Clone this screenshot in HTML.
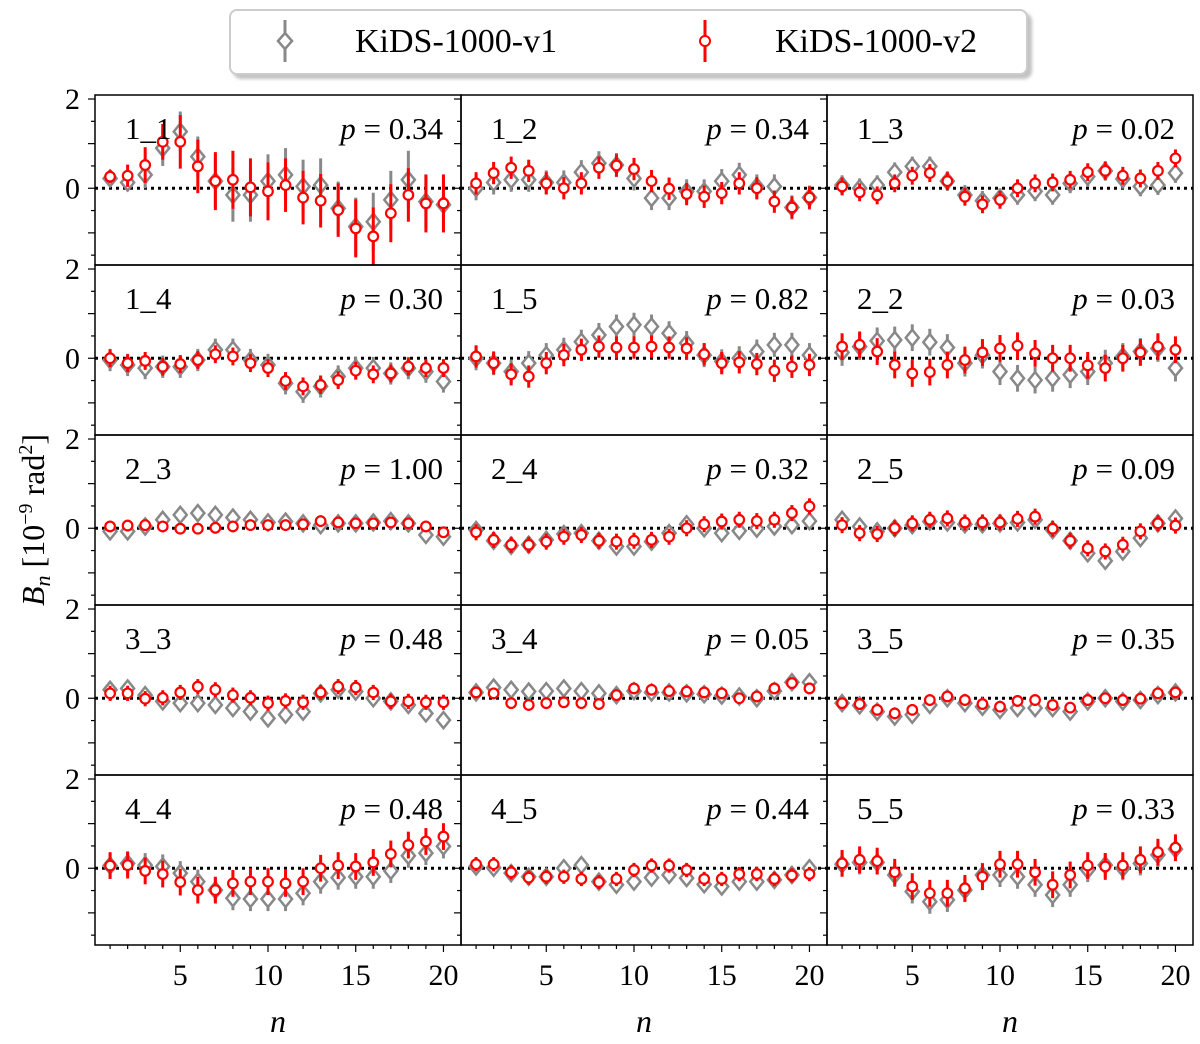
<!DOCTYPE html>
<html><head><meta charset="utf-8"><style>
body{margin:0;background:#fff;}
svg{display:block;font-family:"Liberation Serif",serif;}
</style></head><body>
<svg id="chart" width="1200" height="1044" viewBox="0 0 1200 1044" xmlns="http://www.w3.org/2000/svg">
<defs><filter id="sh" x="-5%" y="-20%" width="115%" height="160%"><feDropShadow dx="4" dy="4" stdDeviation="1.5" flood-color="#999" flood-opacity="0.6"/></filter></defs>
<g>
<rect x="230" y="10" width="797" height="64" rx="7" fill="#fff" stroke="#ccc" stroke-width="2" filter="url(#sh)"/>
<g>
<line x1="285" y1="20" x2="285" y2="62" stroke="#888" stroke-width="3"/>
<polygon points="285,33 292,41 285,49 278,41" fill="#fff" stroke="#888" stroke-width="2.5"/>
<text x="355" y="52" font-size="34">KiDS-1000-v1</text></g>
<g>
<line x1="705" y1="20" x2="705" y2="62" stroke="red" stroke-width="3"/>
<circle cx="705" cy="41" r="5" fill="#fff" stroke="red" stroke-width="2"/>
<text x="775" y="52" font-size="34">KiDS-1000-v2</text></g>
</g>
<text transform="translate(44,520) rotate(-90)" text-anchor="middle" font-size="32"><tspan font-style="italic">B</tspan><tspan font-style="italic" font-size="22" dy="6">n</tspan><tspan dy="-6"> [10</tspan><tspan font-size="20" dy="-12">−9</tspan><tspan dy="12"> rad</tspan><tspan font-size="20" dy="-12">2</tspan><tspan dy="12">]</tspan></text>
</svg>
<script>
const labels=["1_1","1_2","1_3","1_4","1_5","2_2","2_3","2_4","2_5","3_3","3_4","3_5","4_4","4_5","5_5"];
const pvals=["0.34","0.34","0.02","0.30","0.82","0.03","1.00","0.32","0.09","0.48","0.05","0.35","0.48","0.44","0.33"];
const v2=[
[.26,.28,.52,1.04,1.04,.49,.16,.19,.02,-.07,.07,-.21,-.28,-.49,-.9,-1.08,-.56,-.15,-.34,-.34],
[.11,.34,.46,.39,.11,0,.11,.46,.51,.43,.16,-.01,-.13,-.19,-.11,.11,0,-.3,-.43,-.21],
[.04,-.09,-.16,.11,.28,.34,.16,-.19,-.36,-.26,0,.11,.13,.19,.36,.39,.28,.22,.39,.67],
[0,-.11,-.06,-.19,-.13,-.04,.09,.04,-.11,-.22,-.51,-.63,-.6,-.49,-.28,-.36,-.34,-.19,-.22,-.22],
[.04,-.11,-.36,-.41,-.11,.07,.19,.26,.24,.24,.26,.24,.22,.09,-.11,-.09,-.13,-.28,-.19,-.15],
[.26,.3,.15,-.15,-.34,-.31,-.15,-.04,.13,.22,.28,.11,0,0,-.16,-.22,0,.13,.26,.19],
[.04,.06,.07,.04,-.01,-.01,.01,.04,.07,.07,.07,.09,.16,.13,.11,.11,.13,.11,.04,-.09],
[-.09,-.26,-.37,-.37,-.3,-.19,-.15,-.28,-.3,-.28,-.26,-.19,0,.09,.15,.19,.16,.19,.34,.49],
[.07,-.11,-.13,0,.11,.19,.22,.13,.13,.13,.21,.26,-.01,-.28,-.45,-.52,-.37,-.07,.11,.06],
[.11,.11,-.01,.01,.13,.26,.19,.07,.01,-.11,-.06,-.09,.13,.26,.24,.13,-.07,-.07,-.09,-.09],
[.13,.11,-.11,-.15,-.11,-.09,-.11,-.13,.07,.22,.19,.16,.15,.13,.11,0,.04,.22,.34,.22],
[-.11,-.13,-.26,-.34,-.26,-.04,.04,-.04,-.13,-.19,-.06,-.04,-.15,-.21,-.04,0,-.04,-.01,.11,.13],
[.06,.07,-.06,-.13,-.31,-.49,-.49,-.34,-.3,-.3,-.34,-.3,0,.06,.04,.13,.32,.52,.6,.71],
[.09,.09,-.09,-.21,-.19,-.19,-.24,-.31,-.24,-.04,.06,.06,-.04,-.24,-.24,-.13,-.13,-.24,-.16,-.13],
[.11,.19,.16,-.09,-.41,-.56,-.56,-.45,-.19,.09,.09,-.09,-.37,-.15,.06,.04,.06,.19,.36,.46]];
const v1=[
[.22,.13,.3,.9,1.27,.71,.16,-.15,-.15,.16,.3,.04,.07,-.45,-.86,-.75,-.26,.19,-.3,-.37],
[0,.13,.19,.19,.13,.13,.36,.56,.52,.22,-.22,-.22,-.07,-.07,.16,.3,.04,.04,-.43,-.21],
[.07,0,.07,.36,.49,.49,.16,-.15,-.28,-.22,-.15,-.07,-.15,.11,.26,.39,.21,.04,.07,.34],
[-.04,-.15,-.22,-.19,-.19,-.04,.19,.19,-.04,-.15,-.56,-.75,-.63,-.41,-.22,-.22,-.34,-.22,-.3,-.52],
[0,-.11,-.3,-.11,.07,.19,.37,.52,.71,.75,.71,.56,.34,.07,-.07,0,.15,.3,.3,.07],
[.13,.26,.39,.41,.46,.36,.24,-.11,.07,-.3,-.45,-.49,-.45,-.37,-.3,-.11,.04,.15,.22,-.22],
[-.07,-.07,.04,.19,.3,.34,.3,.24,.19,.13,.15,.11,.07,.11,.11,.13,.16,.11,-.15,-.19],
[-.04,-.28,-.39,-.37,-.26,-.13,-.11,-.28,-.41,-.41,-.3,-.11,.09,0,-.11,-.06,-.01,.04,.07,.16],
[.19,.04,-.07,0,.07,.15,.13,.09,.09,.11,.13,.19,-.04,-.28,-.56,-.73,-.52,-.22,.11,.22],
[.19,.22,.07,-.07,-.11,-.11,-.15,-.22,-.3,-.45,-.37,-.3,.11,.19,.15,0,-.07,-.15,-.34,-.49],
[.13,.24,.19,.15,.16,.22,.16,.11,.07,.16,.13,.13,.11,.09,.06,.04,0,.16,.36,.36],
[-.11,-.16,-.3,-.41,-.37,-.15,0,-.11,-.19,-.26,-.22,-.22,-.22,-.3,-.07,0,-.07,-.04,.07,.13],
[.06,.11,.07,.04,-.11,-.3,-.49,-.67,-.69,-.69,-.69,-.56,-.3,-.21,-.19,-.19,-.06,.28,.34,.49],
[.04,.01,-.11,-.19,-.19,0,.07,-.3,-.37,-.3,-.21,-.15,-.22,-.36,-.41,-.3,-.3,-.26,-.15,0],
[.09,.13,.13,-.15,-.52,-.75,-.71,-.49,-.15,-.15,-.19,-.37,-.6,-.37,-.04,.07,0,.11,.3,.43]];
const err11R=[.15,.25,.4,.4,.6,.6,.65,.65,.65,.65,.6,.6,.6,.6,.65,.65,.65,.6,.65,.65];
const err11G=[.15,.2,.3,.4,.45,.45,.6,.6,.6,.6,.6,.6,.6,.6,.65,.65,.65,.65,.6,.6];
const errR=[0,.25,.2,.2,.25,.3,.13,.18,.18,.17,.13,.13,.3,.16,.3];
const errG=[0,.27,.22,.25,.27,.3,.14,.18,.18,.17,.14,.14,.27,.16,.27];
const xTicks=[5,10,15,20];
const yLabels=[0,2];

const NS="http://www.w3.org/2000/svg";
const svg=document.getElementById('chart');
function mk(tag,at,parent){const e=document.createElementNS(NS,tag);for(const k in at)e.setAttribute(k,at[k]);(parent||svg).appendChild(e);return e;}
const colL=[95,461,827],rowT=[95,265,435,605,775],W=366,H=170;
const XMIN=0.14,XMAX=21,YMIN=-1.72,YMAX=2.09;
function xs(c,n){return colL[c]+(n-XMIN)/(XMAX-XMIN)*W;}
function ys(r,v){return rowT[r]+(YMAX-v)/(YMAX-YMIN)*H;}
for(let i=0;i<15;i++){
  const r=Math.floor(i/3),c=i%3;
  const g=mk('g',{});
  
  
  mk('line',{x1:colL[c],x2:colL[c]+W,y1:ys(r,0),y2:ys(r,0),stroke:'#000','stroke-width':3,'stroke-dasharray':'3 4'},g);
  const n=v1[i].length;
  for(let k=0;k<n;k++){
    const eg=i===0?err11G[k]:errG[i];
    const x=xs(c,k+1),y=ys(r,v1[i][k]);
    const gb=mk('line',{x1:x,x2:x,y1:ys(r,v1[i][k]+eg),y2:ys(r,v1[i][k]-eg),stroke:'#888','stroke-width':3},g);
    
    
    const d=mk('polygon',{points:`${x},${y-8} ${x+6.5},${y} ${x},${y+8} ${x-6.5},${y}`,fill:'#fff',stroke:'#888','stroke-width':2.5},g);
    
    
  }
  for(let k=0;k<n;k++){
    const er=i===0?err11R[k]:errR[i];
    const x=xs(c,k+1),y=ys(r,v2[i][k]);
    const rb=mk('line',{x1:x,x2:x,y1:ys(r,v2[i][k]+er),y2:ys(r,v2[i][k]-er),stroke:'red','stroke-width':3},g);
    
    
    const ci=mk('circle',{cx:x,cy:y,r:4.8,fill:'#fff',stroke:'red','stroke-width':2.2},g);
    
    
  }
  const lt=mk('text',{x:colL[c]+30,y:rowT[r]+44,'font-size':31},g);lt.textContent=labels[i];
  
  
  const pt=mk('text',{x:colL[c]+348,y:rowT[r]+44,'font-size':31,'text-anchor':'end'},g);
  pt.innerHTML='<tspan font-style="italic">p</tspan> = '+pvals[i];
  
  
  mk('rect',{x:colL[c],y:rowT[r],width:W,height:H,fill:'none',stroke:'#000','stroke-width':1.5},g);
  for(let t=-1.5;t<=2.0001;t+=0.5){
    const yy=ys(r,t),big=Math.abs(t%1)<1e-6;
    mk('line',{x1:colL[c]-(big?7:4),x2:colL[c],y1:yy,y2:yy,stroke:'#000','stroke-width':1.2},g);
  }
}
for(let r=0;r<5;r++){
  for(const v of yLabels){
    const t=mk('text',{x:80,y:ys(r,v)+10,'font-size':30,'text-anchor':'end'});t.textContent=v;
    
    
  }
}
for(let c=0;c<3;c++){
  const by=rowT[4]+H;
  for(let n=1;n<=20;n++){const x=xs(c,n);const big=xTicks.includes(n);mk('line',{x1:x,x2:x,y1:by,y2:by+(big?7:4),stroke:'#000','stroke-width':1.2});}
  for(const n of xTicks){
    const t=mk('text',{x:xs(c,n),y:by+40,'font-size':30,'text-anchor':'middle'});t.textContent=n;
    
    
  }
  const xt=mk('text',{x:colL[c]+W/2,y:1032,'font-size':32,'font-style':'italic','text-anchor':'middle'});xt.textContent='n';
  
  
}
</script>
</body></html>
